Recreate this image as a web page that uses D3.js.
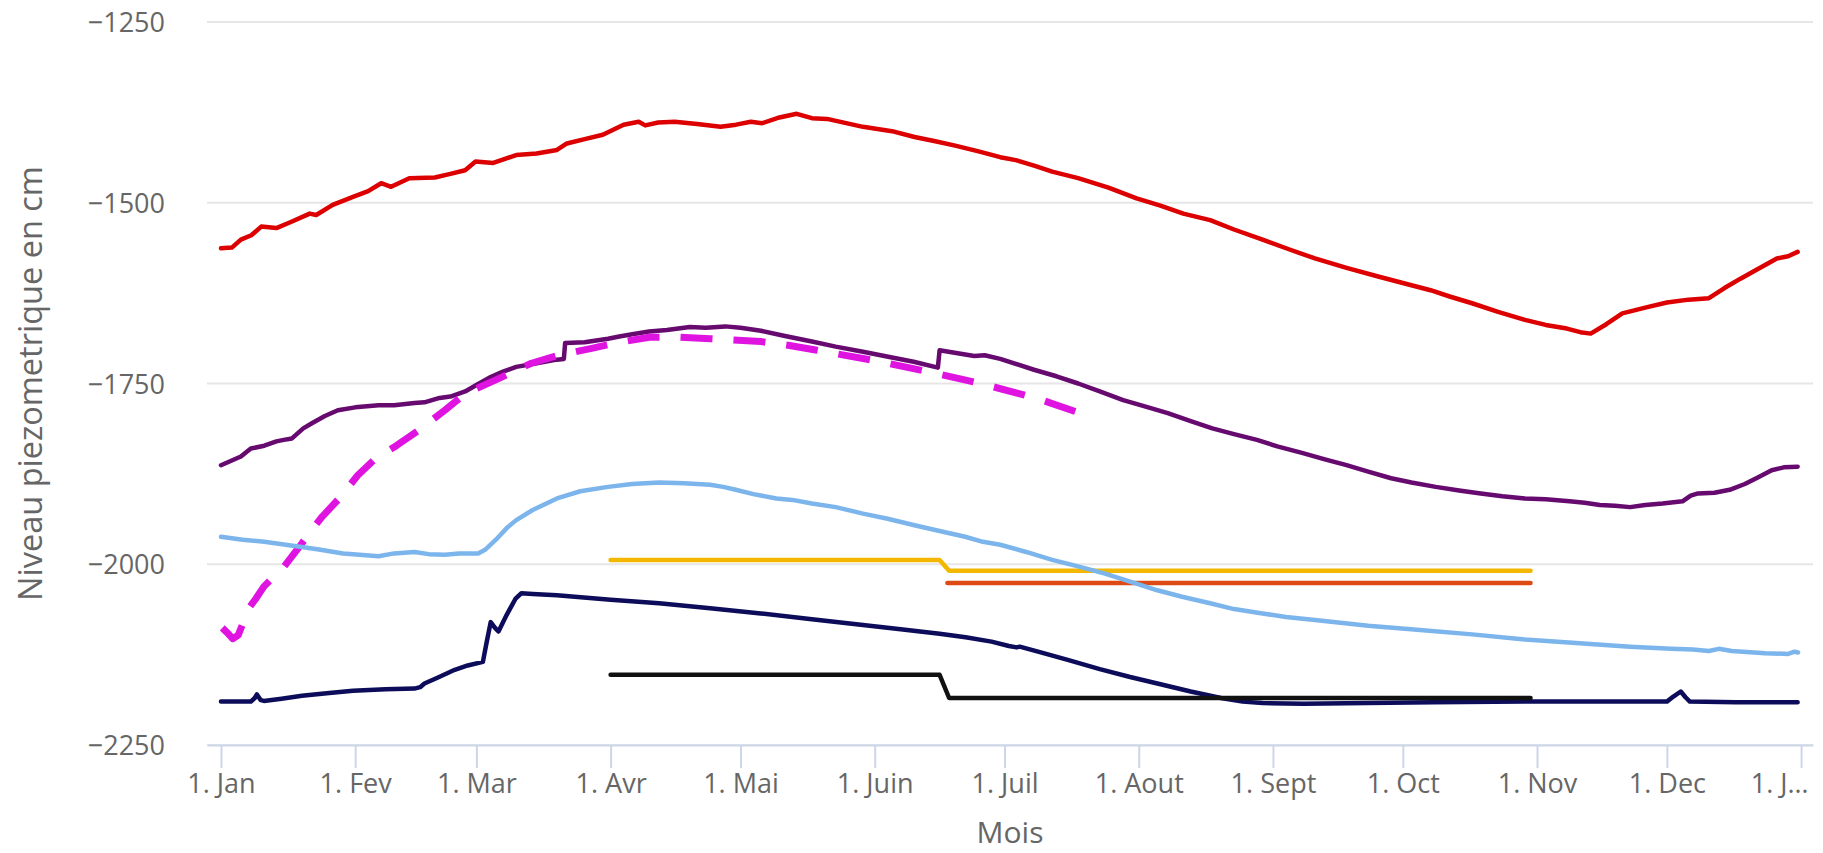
<!DOCTYPE html>
<html>
<head>
<meta charset="utf-8">
<script src="https://cdn.jsdelivr.net/npm/d3@7"></script>
<style>
  html, body { margin: 0; padding: 0; background: #fff; }
  svg { display: block; font-family: "Open Sans", "Noto Sans", sans-serif; }
</style>
</head>
<body>
<svg id="chart" width="1823" height="853"></svg>
<script>
// ---------- DATA (day of year, level in cm) ----------
const xTickLabels = ["1. Jan","1. Fev","1. Mar","1. Avr","1. Mai","1. Juin","1. Juil","1. Aout","1. Sept","1. Oct","1. Nov","1. Dec","1. J\u2026"];
const yTickValues = [-1250, -1500, -1750, -2000, -2250];
const yTickLabels = ["\u22121250", "\u22121500", "\u22121750", "\u22122000", "\u22122250"];
const yAxisTitle = "Niveau piezometrique en cm";
const xAxisTitle = "Mois";

const seriesRed = [[0,-1563],[2.5,-1562],[4.6,-1551],[7,-1545],[9.3,-1533],[12.8,-1535],[16,-1527],[20.5,-1515],[22,-1517],[25.8,-1503],[30.5,-1492],[34,-1484],[37,-1473],[39.3,-1478],[43.5,-1466],[49.4,-1465],[53,-1460],[56.4,-1455],[58.8,-1443],[62.9,-1445],[68.2,-1434],[72.9,-1432],[77.6,-1427],[79.9,-1418],[84,-1412],[88.2,-1406],[93,-1392],[96.5,-1388],[98,-1393],[101,-1389],[104.8,-1388],[110,-1391],[115.4,-1395],[119,-1392],[122.4,-1388],[125,-1390],[129,-1382],[133,-1377],[136.5,-1383],[140,-1384],[148.3,-1395],[155,-1401],[160.2,-1409],[165,-1415],[169.6,-1421],[175,-1429],[180,-1437],[183.6,-1441],[188,-1449],[192,-1457],[198,-1466],[205,-1479],[211.5,-1494],[217,-1504],[222.3,-1515],[228.5,-1524],[234,-1537],[240.6,-1551],[247,-1565],[252.7,-1577],[260,-1590],[267.3,-1602],[273,-1611],[279.4,-1621],[284,-1630],[289,-1639],[295,-1651],[301.2,-1662],[306,-1669],[310.9,-1674],[314,-1679],[316.4,-1681],[320,-1668],[323.7,-1653],[329,-1645],[334,-1638],[339,-1634],[343.7,-1632],[347.3,-1618],[351,-1605],[354.6,-1593],[359.4,-1577],[362,-1574],[364.2,-1568]];

const seriesPurple = [[0,-1863],[4.6,-1851],[6.9,-1840],[10,-1836],[12.8,-1830],[14.5,-1828],[16.4,-1826],[19,-1812],[21,-1805],[24,-1795],[27,-1787],[31,-1783],[36.4,-1780],[40,-1780],[44.7,-1777],[47,-1776],[50.5,-1770],[53,-1768],[56.4,-1761],[59,-1752],[62.3,-1741],[65,-1734],[68.2,-1727],[72,-1723],[77.6,-1717],[79.2,-1716],[79.5,-1694],[84,-1693],[89.4,-1688],[92,-1685],[95,-1682],[98.9,-1678],[103,-1676],[108.3,-1672],[112,-1673],[116.5,-1671],[120,-1673],[124.7,-1677],[130,-1684],[136.5,-1692],[142,-1699],[148.3,-1706],[155,-1714],[160,-1720],[165.6,-1728],[166,-1704],[171.9,-1710],[174,-1712],[176.4,-1711],[180,-1716],[187.8,-1731],[193,-1740],[198,-1750],[203,-1761],[208.4,-1773],[213,-1781],[218.7,-1791],[224,-1802],[229,-1812],[234,-1820],[239.3,-1828],[244,-1837],[249.7,-1846],[255,-1855],[260,-1863],[265,-1872],[270.3,-1881],[275,-1887],[280.6,-1893],[286,-1898],[291,-1902],[296,-1906],[301.2,-1909],[306,-1910],[311.5,-1913],[315,-1915],[318.5,-1918],[322,-1919],[325.5,-1921],[329,-1918],[333,-1916],[337.6,-1913],[339.5,-1905],[341.2,-1902],[345,-1901],[348.5,-1897],[352,-1889],[355,-1880],[358.2,-1870],[361,-1866],[364.2,-1865]];

const seriesMagenta = [[0.3,-2088],[1.5,-2095],[2.7,-2103],[4,-2098],[6.4,-2061],[8,-2048],[9.9,-2031],[12,-2018],[14.6,-2003],[18.7,-1971],[21,-1952],[23.4,-1934],[27,-1911],[31.6,-1877],[35.8,-1853],[40.5,-1836],[45.8,-1814],[51.7,-1787],[56.4,-1764],[63.5,-1745],[71.7,-1722],[78,-1711],[85.9,-1701],[92,-1693],[98.9,-1686],[106,-1686],[113,-1688],[124.7,-1692],[131,-1697],[137.7,-1704],[150.7,-1718],[163.7,-1734],[175.5,-1750],[188.7,-1771],[197.5,-1789]];

const seriesLightBlue = [[0,-1962],[5,-1966],[10,-1969],[18.7,-1976],[23,-1980],[28.2,-1985],[32,-1987],[36.4,-1989],[40,-1985],[44.7,-1983],[48,-1986],[51.7,-1987],[55,-1985],[59.4,-1985],[61,-1980],[63.5,-1966],[66,-1950],[68.2,-1939],[72,-1925],[77.6,-1909],[83,-1899],[89.4,-1893],[95,-1889],[101.2,-1887],[107,-1888],[113,-1890],[116,-1893],[118.9,-1897],[123,-1903],[128.3,-1909],[132,-1911],[136.5,-1916],[142,-1921],[148.3,-1930],[154,-1937],[160.2,-1946],[166,-1954],[171.9,-1962],[176,-1969],[180,-1973],[186,-1983],[192,-1994],[198,-2003],[204.2,-2013],[210,-2024],[216.3,-2036],[222,-2045],[228.5,-2054],[234,-2062],[240.6,-2068],[246,-2073],[252.7,-2077],[265,-2085],[277,-2091],[289,-2097],[301.2,-2104],[313,-2109],[325.5,-2114],[335,-2117],[340,-2118],[343.7,-2120],[346,-2117],[349,-2120],[356.7,-2123],[362,-2124],[363.5,-2121],[364.3,-2122]];

const seriesNavy = [[0,-2190],[6.9,-2190],[7.8,-2185],[8.3,-2180],[9.2,-2188],[9.9,-2189],[14,-2186],[18.7,-2182],[25,-2178],[30.5,-2175],[38,-2173],[44.7,-2172],[46,-2170],[47,-2165],[50,-2157],[54,-2146],[57,-2140],[60.5,-2135],[61.3,-2110],[62.3,-2080],[63.3,-2088],[64.1,-2093],[66,-2070],[68,-2048],[69.4,-2040],[72,-2041],[77.6,-2043],[90,-2049],[101.2,-2054],[113,-2061],[124.7,-2068],[136.5,-2076],[148.3,-2084],[157,-2090],[166,-2096],[172,-2101],[178,-2107],[182,-2113],[183.8,-2115],[184.5,-2114],[190,-2123],[196,-2133],[203,-2145],[210,-2156],[216.3,-2165],[224,-2176],[231,-2185],[236,-2190],[240.6,-2192],[250,-2193],[264.8,-2192],[280,-2191],[301.2,-2190],[320,-2190],[334,-2190],[335.5,-2183],[337.2,-2176],[338.3,-2184],[339.3,-2190],[350,-2191],[364.2,-2191]];

const seriesYellow = [[90,-1994],[166,-1994],[168.2,-2009],[302.5,-2009]];
const seriesOrange = [[167.8,-2026],[302.5,-2026]];
const seriesBlack  = [[90,-2153],[166,-2153],[168.2,-2185],[302.5,-2185]];

// ---------- DRAWING ----------
const YEAR0 = Date.UTC(2021, 0, 1);
const toDate = d => new Date(YEAR0 + d * 86400000);

const plot = { left: 207, right: 1813, top: 22, bottom: 745 };
const svg = d3.select("#chart");

const x = d3.scaleUtc()
  .domain([toDate(-3.23), toDate(367.75)])
  .range([plot.left, plot.right]);
const y = d3.scaleLinear()
  .domain([-2250, -1250])
  .range([plot.bottom, plot.top]);

// grid lines
svg.append("g").selectAll("line").data(yTickValues).join("line")
  .attr("x1", plot.left).attr("x2", plot.right)
  .attr("y1", d => y(d)).attr("y2", d => y(d))
  .attr("stroke", "#e6e6e6").attr("stroke-width", 2);

// y axis labels
const yAxis = svg.append("g")
  .attr("transform", `translate(${plot.left},0)`)
  .call(d3.axisLeft(y).tickValues(yTickValues).tickSize(0).tickPadding(42)
    .tickFormat((d, i) => yTickLabels[i]));
yAxis.select(".domain").remove();
yAxis.selectAll("text")
  .attr("font-family", "Open Sans, sans-serif")
  .attr("font-size", 27).attr("fill", "#666666").attr("dy", "0.36em");

// x axis
const months = d3.utcMonth.range(toDate(0), toDate(366));
const xAxis = svg.append("g")
  .attr("transform", `translate(0,${plot.bottom})`)
  .call(d3.axisBottom(x).tickValues(months).tickSize(23).tickSizeOuter(0).tickPadding(6)
    .tickFormat((d, i) => xTickLabels[i]));
xAxis.select(".domain").attr("stroke", "#ccd6eb").attr("stroke-width", 2);
xAxis.selectAll(".tick line").attr("stroke", "#ccd6eb").attr("stroke-width", 2);
xAxis.selectAll("text")
  .attr("font-family", "Open Sans, sans-serif")
  .attr("font-size", 27).attr("fill", "#666666");
// keep the last (truncated) label inside the chart, like the original
xAxis.selectAll(".tick text").filter((d, i) => i === months.length - 1)
  .attr("text-anchor", "end").attr("x", 7);

// axis titles
svg.append("text")
  .attr("transform", `translate(42,${(plot.top + plot.bottom) / 2}) rotate(-90)`)
  .attr("text-anchor", "middle")
  .attr("font-size", 32.5).attr("fill", "#666666")
  .text(yAxisTitle);
svg.append("text")
  .attr("x", (plot.left + plot.right) / 2).attr("y", 843)
  .attr("text-anchor", "middle")
  .attr("font-size", 30).attr("fill", "#666666")
  .text(xAxisTitle);

// lines
const line = d3.line().x(d => x(toDate(d[0]))).y(d => y(d[1]));
const series = [
  { data: seriesYellow,    color: "#f4b700", width: 4.5 },
  { data: seriesOrange,    color: "#dd4a14", width: 4.5 },
  { data: seriesRed,       color: "#dc0000", width: 4.5 },
  { data: seriesPurple,    color: "#660a70", width: 4.5 },
  { data: seriesMagenta,   color: "#e014e0", width: 7, dash: "32,21" },
  { data: seriesNavy,      color: "#0c0c5a", width: 4.5 },
  { data: seriesBlack,     color: "#111111", width: 4.5 },
  { data: seriesLightBlue, color: "#7cb5ec", width: 4.5 }
];
svg.append("g").selectAll("path").data(series).join("path")
  .attr("d", s => line(s.data))
  .attr("fill", "none")
  .attr("stroke", s => s.color)
  .attr("stroke-width", s => s.width)
  .attr("stroke-linejoin", "round")
  .attr("stroke-linecap", s => s.dash ? "butt" : "round")
  .attr("stroke-dasharray", s => s.dash || null);
</script>
</body>
</html>
